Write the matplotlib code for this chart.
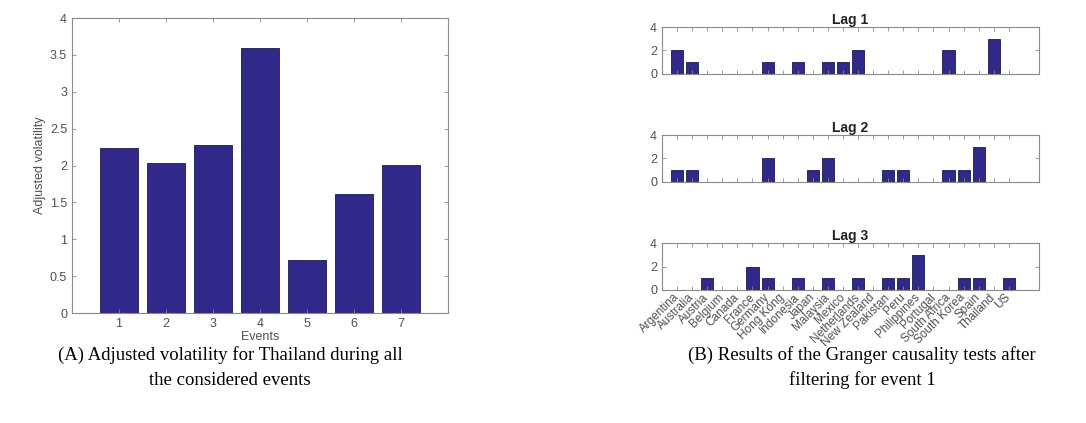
import numpy as np
import matplotlib.pyplot as plt

# Adjusted volatility for Thailand per event
events = [1, 2, 3, 4, 5, 6, 7]
volatility = [2.24, 2.03, 2.28, 3.60, 0.72, 1.62, 2.01]

# Granger causality test counts per country, by lag
countries = ['Argentina', 'Australia', 'Austria', 'Belgium', 'Canada', 'France',
             'Germany', 'Hong Kong', 'Indonesia', 'Japan', 'Malaysia', 'Mexico',
             'Netherlands', 'New Zealand', 'Pakistan', 'Peru', 'Philippines',
             'Portugal', 'South Africa', 'South Korea', 'Spain', 'Thailand', 'US']
lag1 = [2, 1, 0, 0, 0, 0, 1, 0, 1, 0, 1, 1, 2, 0, 0, 0, 0, 0, 2, 0, 0, 3, 0]
lag2 = [1, 1, 0, 0, 0, 0, 2, 0, 0, 1, 2, 0, 0, 0, 1, 1, 0, 0, 1, 1, 3, 0, 0]
lag3 = [0, 0, 1, 0, 0, 2, 1, 0, 1, 0, 1, 0, 1, 0, 1, 1, 3, 0, 0, 1, 1, 0, 1]

bar_color = '#30298A'
edge_color = '#1a1850'
axis_color = '#8a8a8a'
text_color = '#505050'

plt.rcParams['font.family'] = 'Liberation Sans'

fig = plt.figure(figsize=(10.86, 4.23), dpi=100)


def style_axes(ax):
    for s in ax.spines.values():
        s.set_color(axis_color)
        s.set_linewidth(0.8)
    ax.tick_params(direction='in', top=True, right=True, colors=axis_color,
                   labelcolor=text_color, labelsize=9, length=3, width=0.6)


# Panel A
axA = fig.add_axes([72 / 1086, 1 - 313 / 423, (448 - 72) / 1086, (313 - 18) / 423])
axA.bar(events, volatility, width=0.8, color=bar_color, edgecolor=edge_color, linewidth=0.6)
axA.set_xlim(0, 8)
axA.set_ylim(0, 4)
axA.set_xticks(events)
axA.set_yticks(np.arange(0, 4.01, 0.5))
axA.set_yticklabels(['0', '0.5', '1', '1.5', '2', '2.5', '3', '3.5', '4'])
axA.set_xlabel('Events', fontsize=9, color=text_color, labelpad=1)
axA.set_ylabel('Adjusted volatility', fontsize=9, color=text_color, labelpad=3)
style_axes(axA)

# Panel B: one row per lag
x = np.arange(1, len(countries) + 1)
tops = [27, 135, 243]
for i, (vals, top) in enumerate(zip([lag1, lag2, lag3], tops)):
    ax = fig.add_axes([662 / 1086, 1 - (top + 47) / 423, (1039 - 662) / 1086, 47 / 423])
    ax.bar(x, vals, width=0.8, color=bar_color, edgecolor=edge_color, linewidth=0.6)
    ax.set_xlim(0, 25)
    ax.set_ylim(0, 4)
    ax.set_yticks([0, 2, 4])
    ax.set_xticks(x)
    ax.set_title('Lag %d' % (i + 1), fontsize=10, fontweight='bold', pad=2, color='#222222')
    style_axes(ax)
    if i == 2:
        ax.set_xticklabels(countries, rotation=45, ha='right', va='center',
                           rotation_mode='anchor', fontsize=8.5)
        ax.tick_params(axis='x', pad=4)
    else:
        ax.set_xticklabels([])

# Captions
cap_font = 'Liberation Serif'
cap_size = 13.5
fig.text(230 / 1086, 1 - 355 / 423, '(A) Adjusted volatility for Thailand during all',
         ha='center', va='center', fontsize=cap_size, family=cap_font)
fig.text(230 / 1086, 1 - 380 / 423, 'the considered events',
         ha='center', va='center', fontsize=cap_size, family=cap_font)
fig.text(862 / 1086, 1 - 355 / 423, '(B) Results of the Granger causality tests after',
         ha='center', va='center', fontsize=cap_size, family=cap_font)
fig.text(862 / 1086, 1 - 380 / 423, 'filtering for event 1',
         ha='center', va='center', fontsize=cap_size, family=cap_font)

plt.savefig('out.png', dpi=100)
